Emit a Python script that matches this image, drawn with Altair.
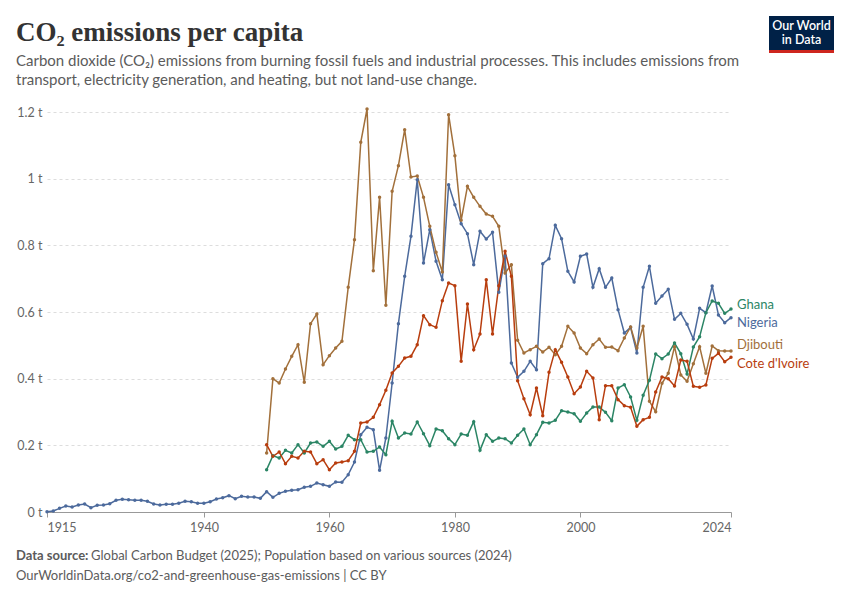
import altair as alt
import pandas as pd

# CO2 per capita (tonnes)
nigeria_start = 1915
others_start = 1950

nigeria = [
    0.001, 0.003, 0.011, 0.018, 0.015, 0.021, 0.024, 0.013, 0.020, 0.021,
    0.025, 0.035, 0.038, 0.037, 0.035, 0.035, 0.032, 0.024, 0.021, 0.023,
    0.023, 0.026, 0.032, 0.031, 0.026, 0.026, 0.031, 0.039, 0.043, 0.049,
    0.040, 0.047, 0.045, 0.045, 0.041, 0.061, 0.044, 0.056, 0.062, 0.065,
    0.067, 0.074, 0.077, 0.087, 0.082, 0.077, 0.090, 0.089, 0.112, 0.150,
    0.232, 0.254, 0.247, 0.125, 0.222, 0.387, 0.565, 0.707, 0.827, 0.997,
    0.747, 0.847, 0.752, 0.697, 0.982, 0.922, 0.865, 0.835, 0.742, 0.842,
    0.819, 0.839, 0.659, 0.767, 0.447, 0.404, 0.422, 0.452, 0.427, 0.745,
    0.760, 0.860, 0.820, 0.722, 0.690, 0.767, 0.774, 0.674, 0.730, 0.674,
    0.702, 0.607, 0.537, 0.554, 0.477, 0.674, 0.737, 0.626, 0.648, 0.668,
    0.578, 0.596, 0.563, 0.519, 0.611, 0.598, 0.678, 0.591, 0.568, 0.583,
]

djibouti = [
    0.177, 0.400, 0.387, 0.429, 0.467, 0.502, 0.389, 0.565, 0.594, 0.442,
    0.469, 0.492, 0.512, 0.674, 0.817, 1.109, 1.209, 0.724, 0.944, 0.620,
    0.962, 1.039, 1.147, 1.005, 1.008, 0.944, 0.857, 0.779, 0.720, 1.192,
    1.069, 0.875, 0.977, 0.944, 0.917, 0.894, 0.887, 0.857, 0.717, 0.742,
    0.515, 0.477, 0.487, 0.497, 0.480, 0.494, 0.472, 0.497, 0.557, 0.537,
    0.492, 0.475, 0.502, 0.519, 0.494, 0.495, 0.484, 0.522, 0.555, 0.492,
    0.557, 0.332, 0.301, 0.386, 0.416, 0.496, 0.411, 0.392, 0.445, 0.496,
    0.416, 0.498, 0.484, 0.483, 0.483,
]

ghana = [
    0.127, 0.169, 0.162, 0.185, 0.177, 0.202, 0.177, 0.207, 0.210, 0.197,
    0.212, 0.189, 0.197, 0.230, 0.217, 0.217, 0.180, 0.182, 0.195, 0.172,
    0.272, 0.222, 0.237, 0.234, 0.270, 0.235, 0.199, 0.249, 0.244, 0.220,
    0.202, 0.234, 0.230, 0.271, 0.185, 0.232, 0.212, 0.222, 0.220, 0.207,
    0.230, 0.249, 0.202, 0.232, 0.269, 0.267, 0.275, 0.304, 0.300, 0.295,
    0.272, 0.297, 0.315, 0.315, 0.299, 0.274, 0.372, 0.382, 0.345, 0.275,
    0.350, 0.395, 0.474, 0.460, 0.474, 0.507, 0.475, 0.414, 0.495, 0.526,
    0.598, 0.633, 0.626, 0.596, 0.609,
]

cote_divoire = [
    0.202, 0.167, 0.180, 0.145, 0.167, 0.162, 0.182, 0.180, 0.145, 0.157,
    0.127, 0.147, 0.150, 0.154, 0.182, 0.267, 0.270, 0.284, 0.322, 0.365,
    0.417, 0.437, 0.462, 0.467, 0.502, 0.589, 0.562, 0.554, 0.634, 0.687,
    0.679, 0.452, 0.624, 0.487, 0.534, 0.697, 0.534, 0.679, 0.782, 0.707,
    0.394, 0.340, 0.292, 0.372, 0.289, 0.419, 0.487, 0.449, 0.405, 0.355,
    0.375, 0.422, 0.402, 0.277, 0.379, 0.379, 0.337, 0.319, 0.314, 0.257,
    0.277, 0.284, 0.360, 0.405, 0.400, 0.378, 0.456, 0.452, 0.377, 0.374,
    0.381, 0.461, 0.476, 0.451, 0.464,
]

countries = ["Ghana", "Nigeria", "Djibouti", "Cote d'Ivoire"]
colors = ["#2b8565", "#4c6a9c", "#a2703b", "#b83d0e"]
label_dy = [-4, 5, -6, 7]  # nudges so the end labels don't collide

x_ticks = [1915, 1940, 1960, 1980, 2000, 2024]
y_ticks = [0, 0.2, 0.4, 0.6, 0.8, 1.0, 1.2]

series = {
    "Nigeria": (nigeria_start, nigeria),
    "Djibouti": (others_start, djibouti),
    "Ghana": (others_start, ghana),
    "Cote d'Ivoire": (others_start, cote_divoire),
}
rows = []
for name, (start, vals) in series.items():
    for i, v in enumerate(vals):
        rows.append({"country": name, "year": start + i, "value": v})
df = pd.DataFrame(rows)
last = df[df.year == df.year.max()]

W, H = 684, 400
FONT = "Lato"
GREY = "#5b5b5b"

color = alt.Color("country:N", scale=alt.Scale(domain=countries, range=colors), legend=None)

x = alt.X("year:Q", scale=alt.Scale(domain=[1915, 2024], nice=False, zero=False),
          axis=alt.Axis(values=x_ticks, format="d", labelFlush=True, grid=False,
                        domainColor="#999", tickColor="#999", tickSize=5,
                        labelColor="#666", labelFont=FONT, labelFontSize=12.5,
                        labelPadding=4, title=None))
y = alt.Y("value:Q", scale=alt.Scale(domain=[0, 1.2], nice=False),
          axis=alt.Axis(values=y_ticks, grid=True, gridDash=[3, 3], gridColor="#dddddd",
                        domain=False, ticks=False, labelPadding=5,
                        labelColor="#666", labelFont=FONT, labelFontSize=12.5,
                        labelExpr="format(datum.value, '.1~f') + ' t'", title=None))

lines = alt.Chart(df).mark_line(
    strokeWidth=1.5, point=alt.OverlayMarkDef(size=12, filled=True)
).encode(x=x, y=y, color=color, detail="country:N")

layers = [lines]
for name, dy in zip(countries, label_dy):
    layers.append(
        alt.Chart(last[last.country == name]).mark_text(
            align="left", baseline="middle", dx=6, dy=dy, font=FONT, fontSize=13
        ).encode(x="year:Q", y="value:Q", text="country:N", color=color)
    )

one = pd.DataFrame({"k": [0]})


def note(text, px, py, **kw):
    return alt.Chart(one).mark_text(align="left", baseline="middle", text=text, **kw).encode(
        x=alt.value(px), y=alt.value(py))


layers += [
    note("CO₂ emissions per capita", -31, -79, font="Liberation Serif", fontSize=27,
         fontWeight="bold", color="#333333"),
    note("Carbon dioxide (CO₂) emissions from burning fossil fuels and industrial processes. "
         "This includes emissions from", -31, -51, font=FONT, fontSize=15, color=GREY),
    note("transport, electricity generation, and heating, but not land-use change.",
         -31, -32, font=FONT, fontSize=15, color=GREY),
    note("Data source:", -31, 444, font=FONT, fontSize=13, fontWeight="bold", color=GREY),
    note("Global Carbon Budget (2025); Population based on various sources (2024)",
         44, 444, font=FONT, fontSize=13, color=GREY),
    note("OurWorldinData.org/co2-and-greenhouse-gas-emissions | CC BY",
         -31, 464, font=FONT, fontSize=13, color=GREY),
    alt.Chart(one).mark_rect(color="#002147").encode(
        x=alt.value(722), x2=alt.value(787), y=alt.value(-96), y2=alt.value(-62)),
    alt.Chart(one).mark_rect(color="#ce261e").encode(
        x=alt.value(722), x2=alt.value(787), y=alt.value(-62), y2=alt.value(-59)),
    alt.Chart(one).mark_text(text="Our World", font=FONT, fontSize=12.5, fontWeight=600,
                             color="white", align="center", baseline="middle").encode(
        x=alt.value(754.5), y=alt.value(-86)),
    alt.Chart(one).mark_text(text="in Data", font=FONT, fontSize=12.5, fontWeight=600,
                             color="white", align="center", baseline="middle").encode(
        x=alt.value(754.5), y=alt.value(-72)),
]

chart = alt.layer(*layers).properties(
    width=W, height=H,
    autosize=alt.AutoSizeParams(type="none"),
    padding={"left": 39, "top": 104, "right": 105, "bottom": 76},
    background="white",
).configure_view(stroke=None)

chart.save("out.html", embed_options={"renderer": "svg", "actions": False})
